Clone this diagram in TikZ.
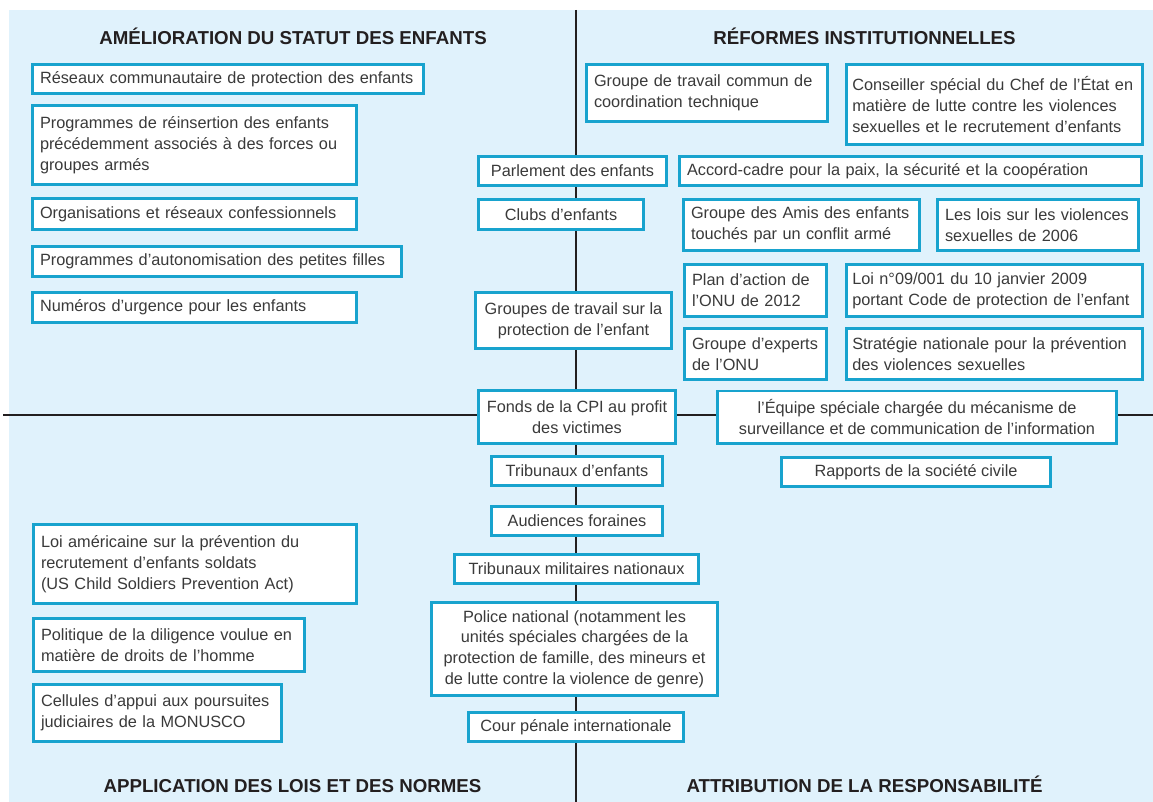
\documentclass[tikz,border=0pt]{standalone}
\usepackage{fontspec}
\setmainfont{Liberation Sans}
\usepackage{tikz}
\usetikzlibrary{positioning}
\definecolor{fondbleu}{RGB}{224,242,252}
\definecolor{cadrebleu}{RGB}{24,163,206}
\definecolor{textegris}{RGB}{58,58,58}
\definecolor{traitnoir}{RGB}{35,31,32}
\tikzset{
  cadre/.style={draw=cadrebleu, line width=2.8pt, fill=white, text=textegris,
    inner xsep=7.5pt, inner ysep=0pt, font=\fontsize{16.3}{20.7}\selectfont},
  gauche/.style={cadre, align=left, text width=#1},
  centre/.style={cadre, align=center},
  titre/.style={anchor=base, text=traitnoir, font=\fontsize{18.7}{22}\selectfont\bfseries},
  separation/.style={draw=traitnoir, line width=2.4pt}
}

\begin{document}
\begin{tikzpicture}[x=1pt, y=-1pt]
\useasboundingbox (0,0) rectangle (1153,802);
\fill[fondbleu] (9,10) rectangle (1153,802);

% axes des quadrants
\draw[separation] (576,10) -- (576,802);
\draw[separation] (3,415) -- (1153,415);

% titres
\node[titre] (titreamelioration) at (293,44.3) {AMÉLIORATION DU STATUT DES ENFANTS};
\node[titre] (titrereformes) at (864.5,44.3) {RÉFORMES INSTITUTIONNELLES};
\node[titre] (titreapplication) at (292.5,792) {APPLICATION DES LOIS ET DES NORMES};
\node[titre] (titreattribution) at (864.5,792) {ATTRIBUTION DE LA RESPONSABILITÉ};

% haut gauche
\node[gauche=376pt, minimum height=29.2pt] (reseaux) at (228,79) {Réseaux communautaire de protection des enfants};
\node[gauche=309pt, minimum height=79.2pt] (reinsertion) at (194.5,145) {Programmes de réinsertion des enfants\\précédemment associés à des forces ou\\groupes armés};
\node[gauche=309pt, minimum height=31.2pt] (confessionnels) at (194.5,214) {Organisations et réseaux confessionnels};
\node[gauche=354pt, minimum height=30.2pt] (autonomisation) at (217,261.5) {Programmes d’autonomisation des petites filles};
\node[gauche=309pt, minimum height=30.2pt] (urgence) at (194.5,307.5) {Numéros d’urgence pour les enfants};

% bas gauche
\node[gauche=308pt, minimum height=79.2pt] (loiusa) at (195,564) {Loi américaine sur la prévention du\\recrutement d'enfants soldats\\(US Child Soldiers Prevention Act)};
\node[gauche=256pt, minimum height=53.2pt] (diligence) at (169,645) {Politique de la diligence voulue en\\matière de droits de l’homme};
\node[gauche=233pt, minimum height=57.2pt] (monusco) at (157.5,713) {Cellules d’appui aux poursuites\\judiciaires de la MONUSCO};

% colonne centrale
\node[centre, minimum width=188.2pt, minimum height=29.2pt] (parlement) at (572.5,171) {Parlement des enfants};
\node[centre, minimum width=165.2pt, minimum height=30.2pt] (clubs) at (561,214.5) {Clubs d’enfants};
\node[centre, minimum width=196.2pt, minimum height=56.2pt] (groupestravail) at (573.5,320.5) {Groupes de travail sur la\\protection de l’enfant};
\node[centre, minimum width=197.2pt, minimum height=53.2pt] (fondscpi) at (577,417) {Fonds de la CPI au profit\\des victimes};
\node[centre, minimum width=171.2pt, minimum height=29.2pt] (tribenfants) at (577,471) {Tribunaux d’enfants};
\node[centre, minimum width=171.2pt, minimum height=29.2pt] (audiences) at (577,521) {Audiences foraines};
\node[centre, minimum width=244.2pt, minimum height=29.2pt] (tribmilitaires) at (576.5,569) {Tribunaux militaires nationaux};
\node[centre, minimum width=286.2pt, minimum height=93.2pt] (police) at (574.5,649) {Police national (notamment les\\unités spéciales chargées de la\\protection de famille, des mineurs et\\de lutte contre la violence de genre)};
\node[centre, minimum width=215.2pt, minimum height=29.2pt] (cpi) at (576,727) {Cour pénale internationale};

% haut droite
\node[gauche=226pt, minimum height=57.2pt] (coordination) at (707,93) {Groupe de travail commun de\\coordination technique};
\node[gauche=284.5pt, inner xsep=6pt, minimum height=80.2pt] (conseiller) at (994.5,104.5) {Conseiller spécial du Chef de l'État en\\matière de lutte contre les violences\\sexuelles et le recrutement d'enfants};
\node[gauche=447pt, minimum height=29.2pt] (accordcadre) at (910.5,171) {Accord-cadre pour la paix, la sécurité et la coopération};
\node[gauche=221pt, minimum height=51.2pt] (amis) at (801.5,225) {Groupe des Amis des enfants\\touchés par un conflit armé};
\node[gauche=186pt, minimum height=51.2pt] (lois2006) at (1038,225) {Les lois sur les violences\\sexuelles de 2006};
\node[gauche=127pt, minimum height=52.2pt] (planaction) at (755.5,290.5) {Plan d’action de\\l’ONU de 2012};
\node[gauche=284.5pt, inner xsep=6pt, minimum height=52.2pt] (loienfant) at (994.5,290.5) {Loi n°09/001 du 10 janvier 2009\\portant Code de protection de l’enfant};
\node[gauche=127pt, minimum height=51.2pt] (experts) at (755.5,354) {Groupe d’experts\\de l'ONU};
\node[gauche=284.5pt, inner xsep=6pt, minimum height=51.2pt] (strategie) at (994.5,354) {Stratégie nationale pour la prévention\\des violences sexuelles};

% bas droite
\node[centre, minimum width=399.2pt, minimum height=52.2pt] (equipe) at (917,417) {l’Équipe spéciale chargée du mécanisme de\\surveillance et de communication de l’information};
\node[centre, minimum width=269.2pt, minimum height=29.2pt] (rapports) at (916,472) {Rapports de la société civile};
\end{tikzpicture}
\end{document}
